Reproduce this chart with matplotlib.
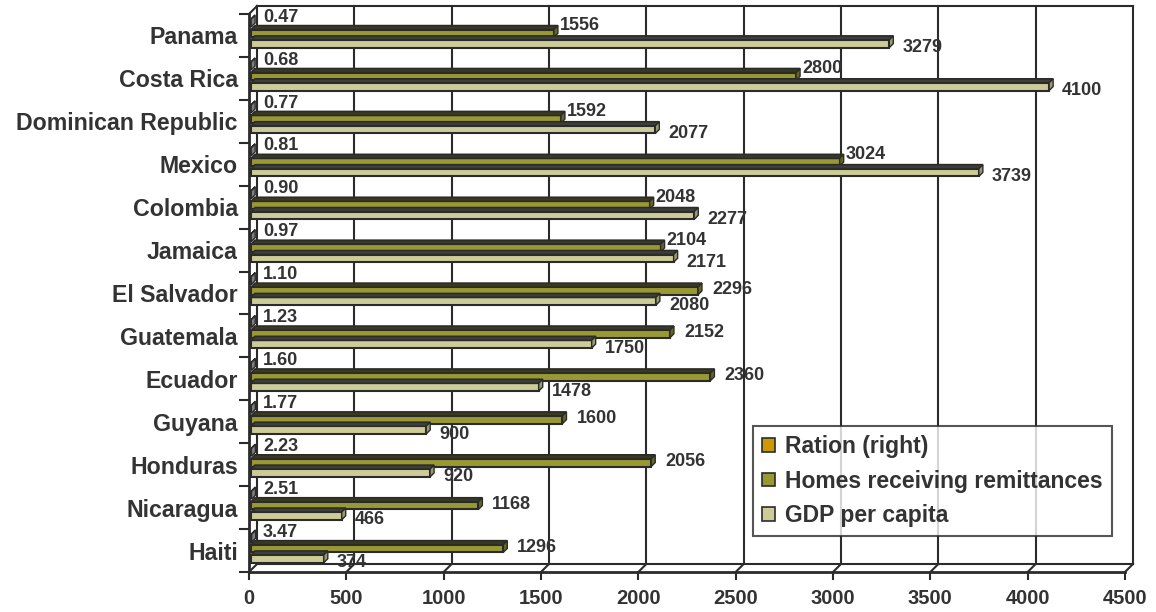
import numpy as np
import matplotlib.pyplot as plt
from matplotlib.patches import Polygon, Patch
from matplotlib.lines import Line2D
from matplotlib.transforms import ScaledTranslation, IdentityTransform

countries = ['Panama', 'Costa Rica', 'Dominican Republic', 'Mexico', 'Colombia',
             'Jamaica', 'El Salvador', 'Guatemala', 'Ecuador', 'Guyana',
             'Honduras', 'Nicaragua', 'Haiti']
ratio = [0.47, 0.68, 0.77, 0.81, 0.90, 0.97, 1.10, 1.23, 1.60, 1.77, 2.23, 2.51, 3.47]
homes = [1556, 2800, 1592, 3024, 2048, 2104, 2296, 2152, 2360, 1600, 2056, 1168, 1296]
gdp = [3279, 4100, 2077, 3739, 2277, 2171, 2080, 1750, 1478, 900, 920, 466, 374]
ratio_labels = ['%.2f' % r for r in ratio]
xticks = np.arange(0, 4501, 500)

plt.rcParams['font.family'] = ['Liberation Sans', 'DejaVu Sans']
plt.rcParams['font.weight'] = 'bold'
INK = '#2b2b2b'
TXT = '#333333'

W, H = 1156, 612
fig = plt.figure(figsize=(W / 100, H / 100), dpi=100)
ax = fig.add_axes([249 / W, 40 / H, 876 / W, 558 / H])
ax.set_xlim(0, 4500)
ax.set_ylim(12.5, -0.5)
ax.patch.set_visible(False)

WALL = 8      # depth of the chart box in pixels
SH = 2        # bars sit a little behind the front plane
BD = 4        # bar depth
ID = IdentityTransform()

def disp(x, y):
    return ax.transData.transform((x, y))

def line(p, q, lw=1.5):
    ax.add_line(Line2D([p[0], q[0]], [p[1], q[1]], color=INK, lw=lw,
                       transform=ID, clip_on=False, zorder=1))

# back wall, floor and grid
x0, ytop = disp(0, -0.5)
x1, ybot = disp(4500, 12.5)
for t in xticks:
    xt = disp(t, 12.5)[0]
    line((xt + WALL, ybot + WALL), (xt + WALL, ytop + WALL))
    line((xt, ybot), (xt + WALL, ybot + WALL))
line((x0 + WALL, ytop + WALL), (x1 + WALL, ytop + WALL))
line((x0 + WALL, ybot + WALL), (x1 + WALL, ybot + WALL))
line((x0, ytop), (x0 + WALL, ytop + WALL))

shift = ax.transData + ScaledTranslation(SH / 100, SH / 100, fig.dpi_scale_trans)
pos = np.arange(len(countries))
h = 0.18
gap = 0.24

series = [
    ('Ration (right)', ratio, -gap, '#cc9900', '#8c8c8c', '#808080'),
    ('Homes receiving remittances', homes, 0.0, '#999933', '#3a3a1e', '#66661f'),
    ('GDP per capita', gdp, gap, '#cccc99', '#3f3f38', '#9a9a70'),
]

for i in range(len(countries)):
    for name, vals, off, fc, topc, endc in series:
        y = pos[i] + off
        v = vals[i]
        ax.barh(y, v, height=h, color=fc, edgecolor=INK, lw=1.5,
                transform=shift, zorder=3 + i)
        xa, yb = disp(0, y + h / 2)
        xb, yt = disp(v, y - h / 2)
        xa, xb, yb, yt = xa + SH, xb + SH, yb + SH, yt + SH
        top = [(xa, yt), (xb, yt), (xb + BD, yt + BD), (xa + BD, yt + BD)]
        end = [(xb, yb), (xb, yt), (xb + BD, yt + BD), (xb + BD, yb + BD)]
        ax.add_patch(Polygon(top, closed=True, fc=topc, ec=INK, lw=1.2,
                             transform=ID, clip_on=False, zorder=3 + i))
        ax.add_patch(Polygon(end, closed=True, fc=endc, ec=INK, lw=1,
                             transform=ID, clip_on=False, zorder=3 + i))

handles = [Patch(facecolor=s[3], edgecolor=INK, lw=1.2, label=s[0]) for s in series]

# value labels
for i in range(len(countries)):
    ax.annotate(ratio_labels[i], xy=(0, pos[i] - gap), xytext=(14, 8),
                textcoords='offset pixels', ha='left', va='center',
                fontsize=13, color=TXT, zorder=30)
    if gdp[i] > homes[i]:
        dx, dy = 8, 10
    else:
        dx, dy = 16, 3
    ax.annotate(str(homes[i]), xy=(homes[i], pos[i]), xytext=(dx, dy),
                textcoords='offset pixels', ha='left', va='center',
                fontsize=13, color=TXT, zorder=30)
    ax.annotate(str(gdp[i]), xy=(gdp[i], pos[i] + gap), xytext=(15, -2),
                textcoords='offset pixels', ha='left', va='center',
                fontsize=13, color=TXT, zorder=30)

# axes
for s in ['top', 'right']:
    ax.spines[s].set_visible(False)
for s in ['left', 'bottom']:
    ax.spines[s].set_color(INK)
    ax.spines[s].set_linewidth(2)
    ax.spines[s].set_zorder(2)

ax.set_xticks(xticks)
ax.set_xticklabels([str(t) for t in xticks], fontsize=14.5, color=TXT)
ax.tick_params(axis='x', length=6, width=1.5, color=INK, pad=6)
ax.set_yticks(np.arange(-0.5, len(countries)), labels=[])
ax.tick_params(axis='y', which='major', length=7, width=1.5, color=INK)
ax.set_yticks(pos, minor=True)
ax.set_yticklabels(countries, minor=True, fontsize=16.7, color=TXT)
ax.tick_params(axis='y', which='minor', length=0, pad=8)

leg = ax.legend(handles=handles, loc='upper left',
                bbox_to_anchor=(753 / W, 1 - 426 / H), bbox_transform=fig.transFigure,
                borderaxespad=0, fontsize=16.5, frameon=True, fancybox=False,
                handlelength=0.55, handleheight=0.55, handletextpad=0.45,
                labelspacing=0.5, borderpad=0.4)
leg.get_frame().set_edgecolor(INK)
leg.get_frame().set_linewidth(1.5)
leg.set_zorder(40)
for t in leg.get_texts():
    t.set_color(TXT)

fig.savefig('out.png', dpi=100, facecolor='white')
